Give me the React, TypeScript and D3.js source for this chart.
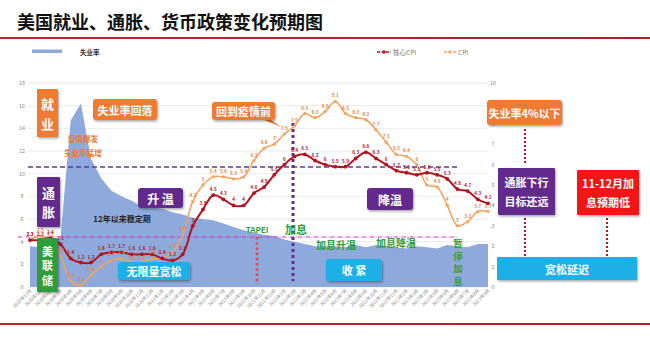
import React from 'react';
import * as d3 from 'd3';

const xLabels = [
  '2019年12月',
  '2020年1月','2020年2月','2020年3月','2020年4月','2020年5月','2020年6月','2020年7月','2020年8月','2020年9月','2020年10月','2020年11月','2020年12月',
  '2021年1月','2021年2月','2021年3月','2021年4月','2021年5月','2021年6月','2021年7月','2021年8月','2021年9月','2021年10月','2021年11月','2021年12月',
  '2022年1月','2022年2月','2022年3月','2022年4月','2022年5月','2022年6月','2022年7月','2022年8月','2022年9月','2022年10月','2022年11月','2022年12月',
  '2023年1月','2023年2月','2023年3月','2023年4月','2023年5月','2023年6月','2023年7月','2023年8月','2023年9月',
];

const unemployment = [
  3.6,
  3.5, 3.5, 4.4, 14.7, 16.2, 11.3, 9.6, 8.5, 8.0, 7.6, 7.1, 7.0,
  6.9, 6.6, 6.4, 6.1, 6.0, 5.9, 5.6, 5.3, 5.0, 4.8, 4.6, 4.5,
  4.2, 4.0, 3.8, 3.6, 3.6, 3.6, 3.5, 3.7, 3.5, 3.7, 3.6, 3.5,
  3.4, 3.6, 3.5, 3.4, 3.7, 3.6, 3.5, 3.8, 3.8,
];

const coreCPI = [
  2.3,
  2.3, 2.4, 2.1, 1.4, 1.2, 1.2, 1.6, 1.7, 1.7, 1.6, 1.6, 1.6,
  1.4, 1.3, 1.6, 3.0, 3.8, 4.5, 4.3, 4.0, 4.0, 4.6, 4.9, 5.5,
  6.0, 6.4, 6.5, 6.2, 6.0, 5.9, 5.9, 6.3, 6.6, 6.3, 6.0, 5.7,
  5.6, 5.5, 5.6, 5.5, 5.3, 4.8, 4.7, 4.3, 4.1,
];

const cpi = [
  2.3,
  2.5, 2.3, 1.5, 0.3, 0.1, 0.6, 1.0, 1.3, 1.4, 1.2, 1.2, 1.4,
  1.4, 1.7, 2.6, 4.2, 5.0, 5.4, 5.4, 5.3, 5.4, 6.2, 6.8, 7.0,
  7.5, 7.9, 8.5, 8.3, 8.6, 9.1, 8.5, 8.3, 8.2, 7.7, 7.1, 6.5,
  6.4, 6.0, 5.0, 4.9, 4.0, 3.0, 3.2, 3.7, 3.7,
];

const leftTicks = [0, 2, 4, 6, 8, 10, 12, 14, 16, 18];
const rightTicks = [0, 1, 2, 3, 4, 5, 6, 7, 8, 9, 10];

const seriesNames = { area: '失业率', core: '核心CPI', cpi: 'CPI' };

const FONT = '"Noto Sans CJK SC", "Noto Sans", sans-serif';
const ORANGE = '#EF7A30';
const PURPLE = '#632C8E';
const BLUE = '#1EB0E6';
const GREEN = '#2F9E3B';
const RED = '#F41818';
const DARKRED = '#B3121F';
const LORANGE = '#F3A25C';
const AREA = '#8EA9DB';

type BoxProps = {
  x: number; y: number; w: number; h: number; fill: string;
  lines: string[]; fs?: number; rx?: number; lh?: number; vertical?: boolean; ls?: number;
};

function Box({ x, y, w, h, fill, lines, fs = 11, rx = 3, lh, vertical = false, ls = 0 }: BoxProps) {
  const step = lh ?? fs * 1.35;
  const n = lines.length;
  const cy = y + h / 2;
  return (
    <g>
      <rect x={x} y={y} width={w} height={h} rx={rx} fill={fill} filter="url(#shadow)" />
      {lines.map((t, i) => (
        <text
          key={i}
          x={x + w / 2}
          y={cy + (i - (n - 1) / 2) * step}
          textAnchor="middle"
          dominantBaseline="central"
          fill="#fff"
          fontSize={fs}
          fontWeight={700}
          letterSpacing={ls}
          fontFamily={FONT}
        >
          {t}
        </text>
      ))}
    </g>
  );
}

export default function App() {
  const W = 650, H = 346;
  const n = xLabels.length;
  const x = d3.scaleLinear().domain([0, n - 1]).range([30, 488]);
  const yL = d3.scaleLinear().domain([0, 18]).range([287, 83]);
  const yR = d3.scaleLinear().domain([0, 10]).range([287, 83]);

  const area = d3.area<number>()
    .x((_, i) => x(i))
    .y0(yL(0))
    .y1((d) => yL(d))
    .curve(d3.curveLinear)(unemployment) as string;

  const lineR = d3.line<number>()
    .x((_, i) => x(i))
    .y((d) => yR(d))
    .curve(d3.curveCatmullRom.alpha(0.5));

  const fmt = (v: number) => String(+v.toFixed(1));

  return (
    <svg width={W} height={H} style={{ position: 'absolute', left: 0, top: 0, background: '#fff' }} fontFamily={FONT}>
      <defs>
        <filter id="shadow" x="-20%" y="-20%" width="150%" height="160%">
          <feDropShadow dx="1" dy="1.5" stdDeviation="1" floodColor="#000" floodOpacity="0.35" />
        </filter>
        <linearGradient id="redline" x1="0" x2="1" y1="0" y2="0">
          <stop offset="0" stopColor="#C0272D" />
          <stop offset="1" stopColor="#B01E25" />
        </linearGradient>
      </defs>

      {/* Title */}
      <text x={17} y={29} fontSize={18} fontWeight={700} fill="#111">美国就业、通胀、货币政策变化预期图</text>
      <rect x={0} y={37} width={W} height={2} fill="url(#redline)" />

      {/* Legend */}
      <rect x={32} y={49.5} width={30} height={3.5} fill={AREA} />
      <text x={80} y={54.5} fontSize={6.5} fill="#333" fontWeight={700}>{seriesNames.area}</text>
      <line x1={377} x2={391} y1={52} y2={52} stroke={DARKRED} strokeWidth={1.6} strokeDasharray="3,1.5" />
      <circle cx={384} cy={52} r={1.8} fill={DARKRED} />
      <text x={393} y={54.5} fontSize={6.5} fill="#777">{seriesNames.core}</text>
      <line x1={444} x2={456} y1={52} y2={52} stroke={LORANGE} strokeWidth={1.4} strokeDasharray="3,1.5" />
      <circle cx={450} cy={52} r={1.6} fill={LORANGE} />
      <text x={458} y={54.5} fontSize={6.5} fill="#777">{seriesNames.cpi}</text>

      {/* Gridlines */}
      {leftTicks.map((t) => (
        <line key={t} x1={28} x2={488} y1={yL(t)} y2={yL(t)} stroke="#E6E6E6" strokeWidth={0.8} />
      ))}

      {/* Area */}
      <path d={area} fill={AREA} />

      {/* Left ticks */}
      {leftTicks.map((t) => (
        <text key={t} x={22} y={yL(t)} textAnchor="middle" dominantBaseline="central" fontSize={5.5} fill="#888">{t}</text>
      ))}
      {/* Right ticks */}
      {rightTicks.map((t) => (
        <text key={t} x={493} y={yR(t)} textAnchor="middle" dominantBaseline="central" fontSize={5.5} fill="#888">{t}</text>
      ))}

      {/* X labels */}
      {xLabels.map((l, i) => (
        <text key={l} x={0} y={0} transform={`translate(${x(i) + 2},${291}) rotate(-45)`} textAnchor="end" fontSize={4.6} fill="#888">{l}</text>
      ))}

      {/* Reference lines */}
      <line x1={28} x2={458} y1={167} y2={167} stroke="#5E3A96" strokeWidth={1.4} strokeDasharray="5,3" />
      <line x1={18} x2={458} y1={237} y2={237} stroke="#D22ED2" strokeWidth={1.1} strokeDasharray="4,1.5,1,1.5" />
      <line x1={257} x2={257} y1={237} y2={284} stroke="#E5484D" strokeWidth={2.6} strokeDasharray="2.6,2.6" />
      <line x1={293} x2={293} y1={123} y2={281} stroke={PURPLE} strokeWidth={3} strokeDasharray="3,3" />

      {/* Lines */}
      <path d={lineR(cpi) as string} fill="none" stroke={LORANGE} strokeWidth={1.5} />
      {cpi.map((v, i) => (
        <circle key={'c' + i} cx={x(i)} cy={yR(v)} r={1.6} fill={LORANGE} />
      ))}
      <path d={lineR(coreCPI) as string} fill="none" stroke={DARKRED} strokeWidth={2} />
      {coreCPI.map((v, i) => (
        <circle key={'k' + i} cx={x(i)} cy={yR(v)} r={1.9} fill={DARKRED} />
      ))}

      {/* Data labels */}
      {cpi.map((v, i) => (
        <text key={'cl' + i} x={x(i)} y={yR(v) - 4} textAnchor="middle" fontSize={4.6} fontWeight={700} fill="#E8843A">{fmt(v)}</text>
      ))}
      {coreCPI.map((v, i) => (
        <text key={'kl' + i} x={x(i)} y={yR(v) - 4} textAnchor="middle" fontSize={4.6} fontWeight={700} fill="#B3121F">{fmt(v)}</text>
      ))}

      {/* Left category boxes */}
      <Box x={37} y={89} w={21} h={48} fill={ORANGE} lines={['就', '业']} fs={13} lh={20} rx={1} />
      <Box x={37} y={177} w={23} h={50} fill={PURPLE} lines={['通', '胀']} fs={13} lh={19} rx={1} />
      <Box x={37} y={238} w={21} h={54} fill={GREEN} lines={['美', '联', '储']} fs={11} lh={14.5} rx={1} />

      {/* Orange annotations */}
      <Box x={93} y={99} w={64} h={21} fill={ORANGE} lines={['失业率回落']} fs={11} rx={3} />
      <text x={83} y={142} textAnchor="middle" fontSize={7.5} fontWeight={700} fill={ORANGE}>疫情爆发</text>
      <text x={83} y={156} textAnchor="middle" fontSize={7.5} fontWeight={700} fill={ORANGE}>失业率猛增</text>
      <path d="M262,119 L281,127 L270,119 Z" fill={ORANGE} />
      <Box x={212} y={102} w={63} h={18} fill={ORANGE} lines={['回到疫情前']} fs={11} rx={3} />

      {/* Purple annotations */}
      <Box x={138} y={188} w={45} h={20} fill={PURPLE} lines={['升 温']} fs={12} rx={3} />
      <Box x={367} y={188} w={46} h={22} fill={PURPLE} lines={['降温']} fs={12} rx={3} />
      <text x={122} y={222} textAnchor="middle" fontSize={8} fontWeight={700} fill="#222">12年以来稳定期</text>

      {/* Blue annotations */}
      <Box x={118} y={262} w={72} h={18} fill={BLUE} lines={['无限量宽松']} fs={11} rx={3} />
      <Box x={326} y={259} w={56} h={22} fill={BLUE} lines={['收 紧']} fs={11} rx={3} />

      {/* Green annotations */}
      <text x={257} y={233} textAnchor="middle" fontSize={8} fontWeight={700} fill={GREEN}>TAPEI</text>
      <text x={296} y={234} textAnchor="middle" fontSize={11} fontWeight={700} fill={GREEN}>加息</text>
      <text x={336} y={249} textAnchor="middle" fontSize={10} fontWeight={700} fill={GREEN}>加息升温</text>
      <text x={396} y={247} textAnchor="middle" fontSize={10} fontWeight={700} fill={GREEN}>加息降温</text>
      {['暂', '停', '加', '息'].map((c, i) => (
        <text key={c + i} x={458} y={243 + i * 12.5} textAnchor="middle" dominantBaseline="central" fontSize={9.5} fontWeight={700} fill={GREEN}>{c}</text>
      ))}

      {/* Right side */}
      <Box x={487} y={100} w={75} h={25} fill={ORANGE} lines={['失业率4%以下']} fs={11} rx={3} />
      <line x1={525} x2={525} y1={129} y2={165} stroke="#C0141C" strokeWidth={2} strokeDasharray="2,2" />
      <Box x={498} y={168} w={57} h={47} fill={PURPLE} lines={['通胀下行', '目标还远']} fs={11} lh={19} rx={1} />
      <Box x={577} y={170} w={62} h={45} fill={RED} lines={['11-12月加', '息预期低']} fs={11} lh={19} rx={1} />
      <line x1={525} x2={525} y1={218} y2={256} stroke="#C0141C" strokeWidth={2} strokeDasharray="2,2" />
      <line x1={607} x2={607} y1={218} y2={256} stroke="#C0141C" strokeWidth={2} strokeDasharray="2,2" />
      <Box x={497} y={257} w={140} h={23} fill={BLUE} lines={['宽松延迟']} fs={11} rx={1} />

      {/* Bottom line */}
      <rect x={0} y={323} width={W} height={2} fill="url(#redline)" />
    </svg>
  );
}
